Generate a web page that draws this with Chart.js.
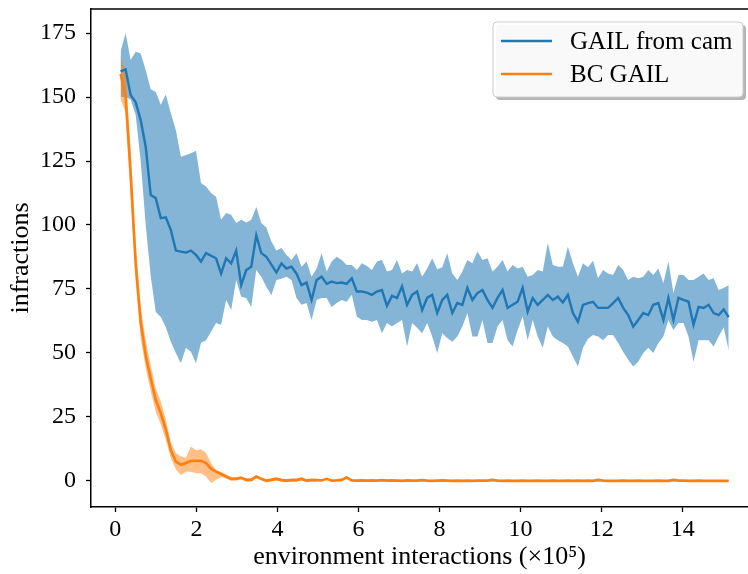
<!DOCTYPE html>
<html>
<head>
<meta charset="utf-8">
<script src="https://cdn.jsdelivr.net/npm/chart.js@4"></script>
<style>
  html, body { margin: 0; padding: 0; background: #fff; }
  #wrap { width: 748px; height: 574px; }
</style>
</head>
<body>
<div id="wrap"><canvas id="chart" width="748" height="574"></canvas></div>
<script>
// evaluation points, environment interactions (x 10^5)
const steps = [
  0.13, 0.254, 0.378, 0.502, 0.626, 0.75, 0.874, 0.998, 1.122, 1.246,
  1.37, 1.494, 1.618, 1.742, 1.866, 1.99, 2.114, 2.238, 2.362, 2.486,
  2.61, 2.734, 2.858, 2.982, 3.106, 3.23, 3.354, 3.478, 3.602, 3.726,
  3.85, 3.974, 4.098, 4.222, 4.346, 4.47, 4.594, 4.718, 4.842, 4.966,
  5.09, 5.214, 5.338, 5.462, 5.586, 5.71, 5.834, 5.958, 6.082, 6.206,
  6.33, 6.454, 6.578, 6.702, 6.826, 6.95, 7.074, 7.198, 7.322, 7.446,
  7.57, 7.694, 7.818, 7.942, 8.066, 8.19, 8.314, 8.438, 8.562, 8.686,
  8.81, 8.934, 9.058, 9.182, 9.306, 9.43, 9.554, 9.678, 9.802, 9.926,
  10.05, 10.174, 10.298, 10.422, 10.546, 10.67, 10.794, 10.918, 11.042, 11.166,
  11.29, 11.414, 11.538, 11.662, 11.786, 11.91, 12.034, 12.158, 12.282, 12.406,
  12.53, 12.654, 12.778, 12.902, 13.026, 13.15, 13.274, 13.398, 13.522, 13.646,
  13.77, 13.894, 14.018, 14.142, 14.266, 14.39, 14.514, 14.638, 14.762, 14.886,
  15.01, 15.134
];

// GAIL from cam: mean and band
const camMean = [
  160, 160.8, 150.8, 148, 141, 130.6, 111.7, 110.5, 102.7, 103,
  98, 90, 89.6, 89.2, 90, 88.3, 85.7, 89, 88, 87,
  81, 87, 85, 90, 76.5, 82.4, 83.7, 96, 89, 87.6,
  84.5, 81.5, 85, 83, 83.7, 81, 76.5, 77.5, 70.7, 78.5,
  79.8, 77, 77.9, 77.3, 77.5, 77, 79.2, 74, 74, 73.6,
  72.7, 74, 74.6, 68.4, 72.3, 71.5, 76, 68.8, 72.7, 74,
  66.8, 71.5, 72.7, 65.6, 70.7, 72.7, 65.6, 69.5, 68.8, 75.4,
  70.7, 73.4, 74.6, 70.7, 67.6, 71.5, 74.6, 67.6, 68.8, 70,
  75.4, 66.1, 71.5, 68.8, 70.7, 72.7, 70.7, 72, 69.7, 72.7,
  65.6, 62.2, 68.8, 69.5, 70, 67.6, 67.6, 67.6, 69.5, 71.5,
  67.6, 64.8, 60.3, 62.9, 65.6, 64.8, 68.8, 69.5, 62.9, 71.5,
  62.9, 71.5, 70.7, 70, 61, 68, 67.6, 68.8, 65.6, 64.8,
  67, 64
];
const camUpper = [
  167.7, 175, 164.5, 167.7, 167, 160.5, 153, 152, 147, 151,
  143.7, 137, 126.7, 127.3, 128, 129, 116.4, 115, 112.5, 111,
  102, 104.7, 104, 100.8, 102, 101, 102, 107, 100.8, 99,
  93.5, 90, 91, 88.3, 86.3, 89, 83.7, 85.7, 79.8, 83,
  89, 81.8, 85.7, 87.6, 86.3, 84.4, 84.4, 82.4, 85, 84,
  82.4, 85.7, 86.3, 81.8, 82.4, 86.3, 81, 82.4, 81.8, 85,
  79.8, 83, 87, 82.7, 83.5, 89, 81, 78.5, 81.8, 86.3,
  85, 89.6, 86.3, 87, 81.8, 83.7, 86.3, 81.8, 84.4, 83,
  83.7, 79.8, 80.5, 82.4, 81.8, 93, 84.4, 83.7, 83.7, 91.5,
  85, 79.8, 85, 83.5, 86, 79.2, 82.4, 81, 80.5, 84.4,
  82.4, 78.5, 79.8, 79.2, 79.8, 82.4, 80.5, 83, 77.2, 85.7,
  73.4, 80.5, 80.5, 78.5, 78.5, 79.8, 81, 78.5, 79.2, 74.6,
  75.4, 76.5
];
const camLower = [
  150, 150, 149, 143, 125, 100, 80, 66, 64, 60,
  54.4, 50, 46, 52, 50.5, 46, 54, 55, 58.3, 61.7,
  61, 70.7, 66.8, 78.5, 72, 71.5, 68, 82.4, 79.8, 75.9,
  72.5, 78.5, 79, 79.8, 78.5, 71.5, 68.8, 69.5, 62.9, 70.7,
  71.5, 71.5, 68, 69.5, 70.7, 70, 72.7, 64.2, 62.9, 62.9,
  62.2, 62.9, 57.7, 61.7, 60.3, 61.7, 62.9, 52.5, 61.7, 59.8,
  57.7, 61.7, 56.4, 50, 57.7, 55.8, 54.4, 56.4, 60.3, 65.6,
  56.4, 56.4, 62.9, 53.9, 53.9, 60.3, 62.9, 55, 52.5, 59,
  64.2, 55, 62.9, 56.4, 52, 60.3, 56.4, 55, 53.9, 52.5,
  48.6, 44.7, 52, 55.5, 57, 56.4, 55, 57, 57, 53.9,
  50.5, 47.3, 44.7, 46.6, 50, 52, 50, 53.9, 56.4, 62.9,
  59, 61.7, 61.7, 56.4, 46.6, 55, 55, 55, 52.5, 56.4,
  60, 51
];

// BC GAIL: mean over all steps, band only where it is wider than the line
const bcMean = [
  159, 150, 120, 85, 62, 49, 40, 31.6, 26.5, 20,
  12, 7.5, 6.3, 7, 7.8, 7.9, 7.9, 7, 4.7, 3.6,
  2.7, 1.7, 0.8, 0.8, 1.2, 0.4, 0.4, 1.7, 0.8, 0.1,
  0.4, 0.8, 0.3, 0.1, 0.3, 0.3, 0.8, 0.1, 0.3, 0.3,
  0.2, 0.8, 0.1, 0.2, 0.4, 1.3, 0.2, 0.1, 0.2, 0.1,
  0.2, 0.1, 0.3, 0.1, 0.2, 0.1, 0.0, 0.2, 0.1, 0.1,
  0.3, 0.1, 0.0, 0.1, 0.2, 0.1, 0.0, 0.1, 0.0, 0.1,
  0.0, 0.1, 0.1, 0.1, 0.4, 0.1, 0.0, 0.1, 0.0, 0.0,
  0.1, 0.0, 0.0, 0.1, 0.0, 0.0, 0.1, 0.0, 0.0, 0.1,
  0.0, 0.1, 0.0, 0.1, 0.0, 0.4, 0.1, 0.0, 0.0, 0.0,
  0.1, 0.0, 0.0, 0.1, 0.0, 0.0, 0.0, 0.1, 0.0, 0.0,
  0.4, 0.1, 0.1, 0.0, 0.0, 0.1, 0.0, 0.0, 0.0, 0.0,
  0.0, 0.0
];
const bcUpper = [
  166, 160, 130, 93, 68, 55, 45, 36, 31, 24,
  15, 10.9, 9.5, 9, 13.4, 12, 12.4, 10.9, 7, 4.3,
  3.5, 2.5, 1.4, 1.4, 1.8, 1.0, 1.0, 2.3, 1.4, 0.7,
  1.0, 1.4, 0.9, 0.7, 0.9, 0.9, 1.4, 0.7, 0.9, 0.9
];
const bcLower = [
  149, 144, 112, 78, 56, 44, 35, 27, 22, 16,
  9, 4.5, 2.3, 3.6, 3.6, 3, 3, 1.7, -0.8, 0.4,
  1.5, 0.9, 0.2, 0.2, 0.6, -0.2, -0.2, 1.1, 0.2, -0.5,
  -0.2, 0.2, -0.3, -0.5, -0.3, -0.3, 0.2, -0.5, -0.3, -0.3
];

const xTicks = [0, 2, 4, 6, 8, 10, 12, 14];
const yTicks = [0, 25, 50, 75, 100, 125, 150, 175];

const blue = '#1f77b4';
const orange = '#ff7f0e';
const serif = '"Liberation Serif", "Times New Roman", serif';

function pts(values) {
  return values.map((v, i) => ({ x: steps[i], y: v }));
}

Chart.defaults.font.family = serif;
Chart.defaults.font.size = 24;
Chart.defaults.color = '#000';

// legend drawn inside the plot, matplotlib style (rounded box with shadow)
function roundedRect(ctx, x, y, w, h, r) {
  ctx.beginPath();
  ctx.moveTo(x + r, y);
  ctx.arcTo(x + w, y, x + w, y + h, r);
  ctx.arcTo(x + w, y + h, x, y + h, r);
  ctx.arcTo(x, y + h, x, y, r);
  ctx.arcTo(x, y, x + w, y, r);
  ctx.closePath();
}

const insideLegend = {
  id: 'insideLegend',
  afterDraw(chart) {
    const ctx = chart.ctx;
    const { top, right, left } = chart.chartArea;
    ctx.save();

    // top spine
    ctx.strokeStyle = '#000';
    ctx.lineWidth = 1.5;
    ctx.beginPath();
    ctx.moveTo(left - 0.75, top);
    ctx.lineTo(right, top);
    ctx.stroke();

    const bx = 493, by = 22, bw = 250, bh = 75;
    ctx.fillStyle = 'rgba(120,120,120,0.55)';
    roundedRect(ctx, bx + 3, by + 3, bw, bh, 4);
    ctx.fill();
    ctx.fillStyle = 'rgba(255,255,255,0.92)';
    roundedRect(ctx, bx, by, bw, bh, 4);
    ctx.fill();
    ctx.strokeStyle = '#cccccc';
    ctx.lineWidth = 1;
    ctx.stroke();

    const items = chart.data.datasets.filter(d => d.label);
    ctx.font = '25px ' + serif;
    ctx.textBaseline = 'middle';
    ctx.textAlign = 'left';
    items.forEach((d, i) => {
      const y = by + 19 + i * 33;
      ctx.strokeStyle = d.borderColor;
      ctx.lineWidth = 2.4;
      ctx.beginPath();
      ctx.moveTo(bx + 8, y);
      ctx.lineTo(bx + 59, y);
      ctx.stroke();
      ctx.fillStyle = '#000';
      ctx.fillText(d.label, bx + 77, y + 1);
    });
    ctx.restore();
  }
};

new Chart(document.getElementById('chart'), {
  type: 'line',
  data: {
    datasets: [
      {
        data: pts(camLower), borderWidth: 0, pointRadius: 0,
        fill: false, order: 4
      },
      {
        data: pts(camUpper), borderWidth: 0, pointRadius: 0,
        fill: '-1', backgroundColor: 'rgba(31,119,180,0.55)', order: 4
      },
      {
        label: 'GAIL from cam', data: pts(camMean), borderColor: blue,
        borderWidth: 2.4, pointRadius: 0, fill: false, order: 2
      },
      {
        data: pts(bcLower), borderWidth: 0, pointRadius: 0,
        fill: false, order: 3
      },
      {
        data: pts(bcUpper), borderWidth: 0, pointRadius: 0,
        fill: '-1', backgroundColor: 'rgba(255,127,14,0.5)', order: 3
      },
      {
        label: 'BC GAIL', data: pts(bcMean), borderColor: orange,
        borderWidth: 2.6, pointRadius: 0, fill: false, order: 1
      }
    ]
  },
  options: {
    responsive: false,
    animation: false,
    events: [],
    layout: { padding: { top: 9, right: 0, bottom: 0, left: 0 } },
    elements: { line: { tension: 0 } },
    plugins: {
      legend: { display: false },
      tooltip: { enabled: false }
    },
    scales: {
      x: {
        type: 'linear',
        min: -0.6,
        max: 15.61,
        afterBuildTicks: axis => { axis.ticks = xTicks.map(v => ({ value: v })); },
        afterFit: axis => {
          axis.height = 67;
          axis.paddingLeft = 0;
          axis.paddingRight = 0;
        },
        grid: { drawOnChartArea: false, drawTicks: true, tickLength: 5, tickColor: '#000', tickWidth: 1.3 },
        border: { display: true, color: '#000', width: 1.5 },
        ticks: { padding: 3, maxRotation: 0, autoSkip: false, callback: v => v },
        title: {
          display: true, text: 'environment interactions (×10⁵)',
          font: { size: 26 }, padding: { top: 0, bottom: 1 }
        }
      },
      y: {
        min: -10.2,
        max: 184.4,
        afterBuildTicks: axis => { axis.ticks = yTicks.map(v => ({ value: v })); },
        afterFit: axis => {
          axis.width = 91;
          axis.paddingTop = 0;
          axis.paddingBottom = 0;
        },
        grid: { drawOnChartArea: false, drawTicks: true, tickLength: 5, tickColor: '#000', tickWidth: 1.3 },
        border: { display: true, color: '#000', width: 1.5 },
        ticks: { padding: 10, autoSkip: false, callback: v => v },
        title: {
          display: true, text: 'infractions',
          font: { size: 26 }, padding: { top: 6, bottom: 0 }
        }
      }
    }
  },
  plugins: [insideLegend]
});
</script>
</body>
</html>
